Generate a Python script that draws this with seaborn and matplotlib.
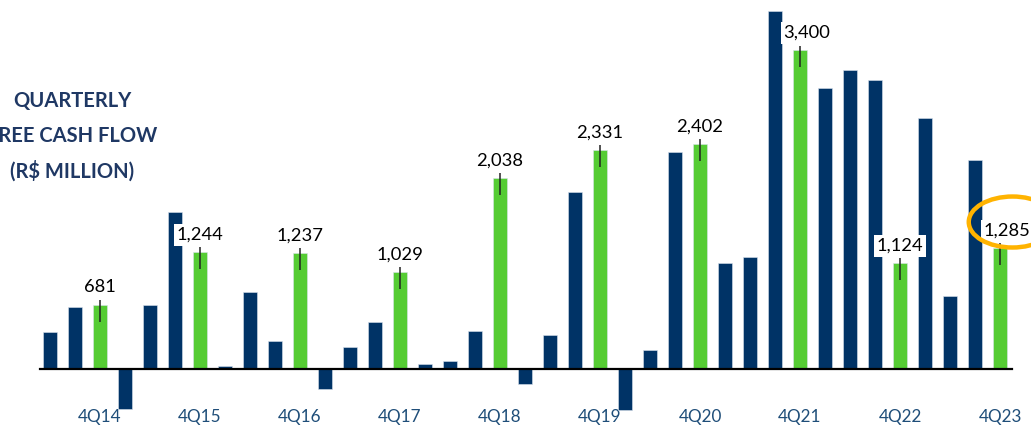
import matplotlib
matplotlib.use("Agg")
import matplotlib.pyplot as plt
import seaborn as sns
import pandas as pd
from matplotlib.patches import Ellipse

quarters = ["2Q14", "3Q14", "4Q14",
            "1Q15", "2Q15", "3Q15", "4Q15",
            "1Q16", "2Q16", "3Q16", "4Q16",
            "1Q17", "2Q17", "3Q17", "4Q17",
            "1Q18", "2Q18", "3Q18", "4Q18",
            "1Q19", "2Q19", "3Q19", "4Q19",
            "1Q20", "2Q20", "3Q20", "4Q20",
            "1Q21", "2Q21", "3Q21", "4Q21",
            "1Q22", "2Q22", "3Q22", "4Q22",
            "1Q23", "2Q23", "3Q23", "4Q23"]
fcf = [392, 660, 681,
       -438, 684, 1678, 1244,
       30, 823, 299, 1237,
       -224, 233, 494, 1029,
       53, 80, 398, 2038,
       -166, 355, 1887, 2331,
       -444, 195, 2318, 2402,
       1129, 1190, 3823, 3400,
       3004, 3196, 3079, 1124,
       2683, 773, 2230, 1285]
highlight_quarters = ["4Q14", "4Q15", "4Q16", "4Q17", "4Q18",
                      "4Q19", "4Q20", "4Q21", "4Q22", "4Q23"]
label_text = ["681", "1,244", "1,237", "1,029", "2,038",
              "2,331", "2,402", "3,400", "1,124", "1,285"]
title_lines = ["QUARTERLY", "FREE CASH FLOW", "(R$ MILLION)"]

BLUE = "#003366"
GREEN = "#55CC33"
TICK_BLUE = "#1F4E79"
TITLE_BLUE = "#1F3864"
ORANGE = "#FFB300"

df = pd.DataFrame({"quarter": quarters, "fcf": fcf})
df["kind"] = ["annual" if q in highlight_quarters else "quarter" for q in quarters]

sns.set_theme(style="white")
plt.rcParams["font.family"] = ["Lato", "DejaVu Sans"]

fig = plt.figure(figsize=(10.31, 4.26), dpi=100)
ax = fig.add_axes([40 / 1031, 14 / 426, 972 / 1031, 407 / 426])

sns.barplot(data=df, x="quarter", y="fcf", hue="kind", order=quarters,
            palette={"quarter": BLUE, "annual": GREEN}, dodge=False,
            width=0.56, legend=False, ax=ax, edgecolor="#d9e2ec", linewidth=0.4,
            saturation=1)

ax.set_xlim(-0.4, 38.48)
ax.set_ylim(-465, 3886)

for s in ["top", "right", "left"]:
    ax.spines[s].set_visible(False)
ax.spines["bottom"].set_position(("data", 0))
ax.spines["bottom"].set_color("black")
ax.spines["bottom"].set_linewidth(1.6)
ax.spines["bottom"].set_zorder(5)

hi_pos = [quarters.index(q) for q in highlight_quarters]
ax.set_xticks(hi_pos)
ax.set_xticklabels(highlight_quarters, fontsize=12.3, color=TICK_BLUE)
ax.tick_params(axis="x", length=0, pad=29)
ax.set_yticks([])
ax.set_xlabel("")
ax.set_ylabel("")

label_dx = [0, 0, 0, 0, 0, 0, 0, 5, 0, 5]
for i, (p, txt) in enumerate(zip(hi_pos, label_text)):
    v = fcf[p]
    ax.vlines(p, v - 180, v + 53, color="#222222", linewidth=1.1, zorder=4)
    ax.annotate(txt, xy=(p, v), xytext=(label_dx[i], 12.5), textcoords="offset points",
                ha="center", va="center", fontsize=13.2, color="black", zorder=6,
                bbox=dict(boxstyle="square,pad=0.15", fc="white", ec="none"))

ell = Ellipse((38.5, 1566), 3.5, 545, fill=False, edgecolor=ORANGE,
              linewidth=3.2, clip_on=False, zorder=7)
ax.add_patch(ell)

title_y = [101, 136, 171]
for line, yy in zip(title_lines, title_y):
    fig.text(72 / 1031, 1 - yy / 426, line, ha="center", va="center",
             fontsize=14.5, fontweight="bold", color=TITLE_BLUE)

fig.savefig("out.png", dpi=100)
